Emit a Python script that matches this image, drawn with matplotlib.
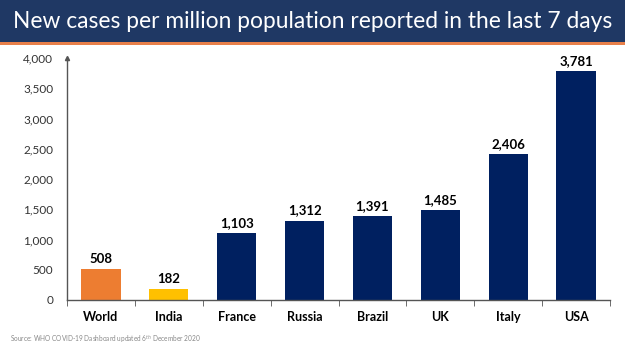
import numpy as np
import matplotlib.pyplot as plt
from matplotlib.patches import Rectangle

countries = ["World", "India", "France", "Russia", "Brazil", "UK", "Italy", "USA"]
cases_per_million = [508, 182, 1103, 1312, 1391, 1485, 2406, 3781]
bar_colors = ["#ED7D31", "#FFC000"] + ["#002060"] * 6
yticks = [0, 500, 1000, 1500, 2000, 2500, 3000, 3500, 4000]

plt.rcParams["font.family"] = ["Lato", "DejaVu Sans"]

fig = plt.figure(figsize=(6.25, 3.51), dpi=100)

# header band
fig.patches.append(Rectangle((0, 1 - 42 / 351), 1, 42 / 351, transform=fig.transFigure,
                             facecolor="#1F3864", edgecolor="none", zorder=0))
fig.patches.append(Rectangle((0, 1 - 45 / 351), 1, 3 / 351, transform=fig.transFigure,
                             facecolor="#E8804A", edgecolor="none", zorder=0))
fig.text(0.5, 1 - 21 / 351, "New cases per million population reported in the last 7 days",
         ha="center", va="center", color="white", fontsize=16.4)

ax = fig.add_axes([67 / 625, 1 - 300 / 351, 543 / 625, 242 / 351])
x = np.arange(len(countries))
bars = ax.bar(x, cases_per_million, width=0.58, color=bar_colors, zorder=2)
for xi, v in zip(x, cases_per_million):
    ax.text(xi, v + 70, f"{v:,}", ha="center", va="bottom", fontsize=9.5, fontweight="bold")

ax.set_xlim(-0.5, len(countries) - 0.5)
ax.set_ylim(0, 4000)
ax.set_yticks(yticks)
ax.set_yticklabels([f"{t:,}" for t in yticks], fontsize=8.5, color="#333333")
ax.set_xticks(x)
ax.set_xticklabels(countries, fontsize=9, fontweight="bold")
ax.tick_params(axis="x", length=0, pad=8)
ax.tick_params(axis="y", length=0, pad=10)
ax.set_xticks(np.arange(len(countries) + 1) - 0.5, minor=True)
ax.tick_params(axis="x", which="minor", length=4, direction="out", color="#555555")

for s in ["top", "right"]:
    ax.spines[s].set_visible(False)
for s in ["left", "bottom"]:
    ax.spines[s].set_color("#555555")
    ax.spines[s].set_linewidth(1.0)
ax.plot(0, 1, marker="^", markersize=3, color="#555555", transform=ax.transAxes,
        clip_on=False)

fig.text(10 / 625, 1 - 339 / 351, "Source: WHO COVID-19 Dashboard updated 6$^{th}$ December 2020",
         fontsize=4.7, color="#888888", va="center")

fig.savefig("out.png", dpi=100)
